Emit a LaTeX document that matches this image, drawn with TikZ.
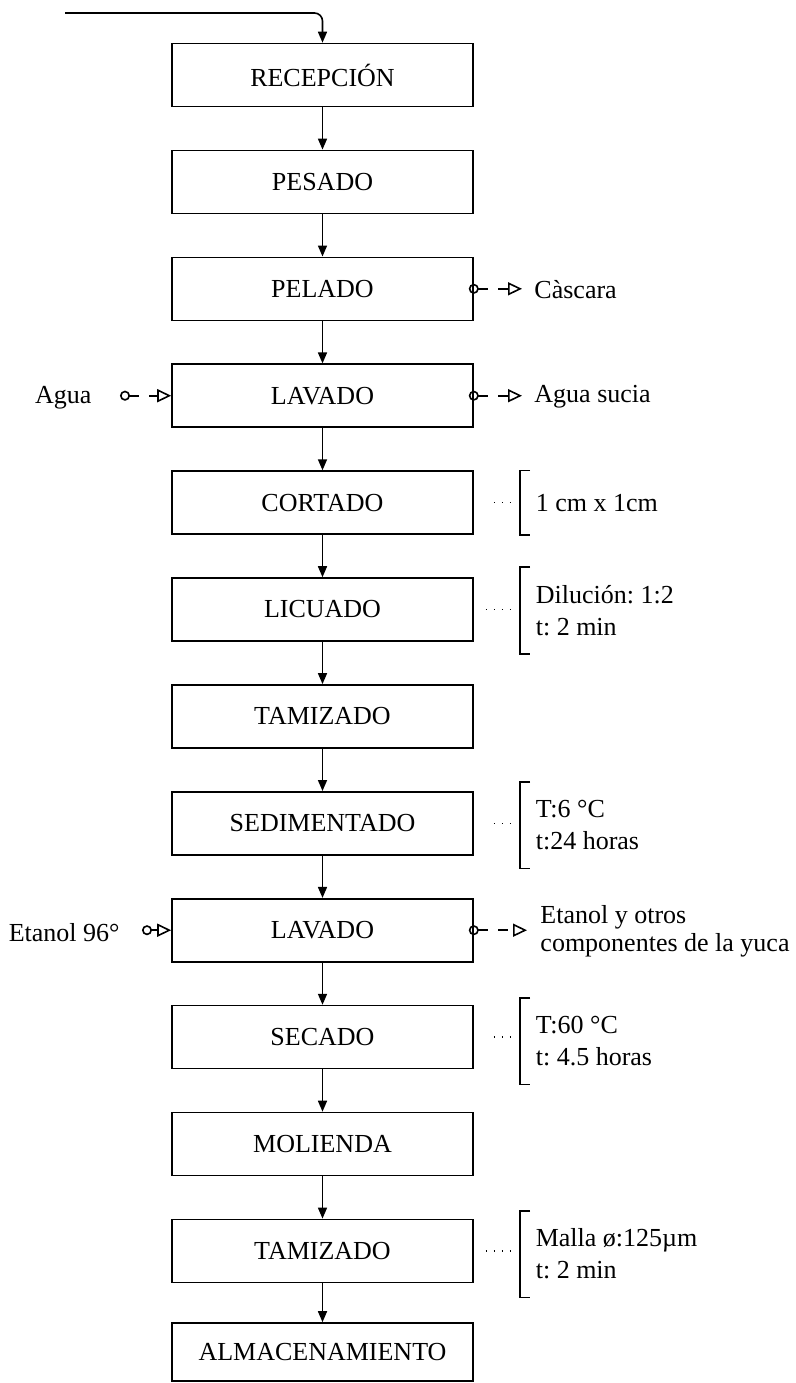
\documentclass[tikz,border=0pt]{standalone}
\usepackage{fontspec}
\setmainfont{Liberation Serif}
\frenchspacing
\usetikzlibrary{arrows.meta}

\begin{document}
\begin{tikzpicture}[x=0.5pt, y=-0.5pt, line width=0.8pt,
        font=\fontsize{13}{16}\selectfont,
        proc/.style={draw, minimum width=150.5pt, minimum height=31.5pt, inner sep=0pt},
        flow/.style={-{Triangle[length=5.5pt,width=4.5pt]}},
        side/.style={{Circle[open,length=5pt,width=5pt]}-{Triangle[open,length=7pt,width=6.5pt]}, dash pattern=on 5pt off 5pt},
        note/.style={anchor=west, align=left, inner xsep=7.5pt, inner ysep=0pt},
        dots/.style={line width=0.7pt, dash pattern=on 0.6pt off 3.4pt, shorten <=10pt, shorten >=2pt}]
        \useasboundingbox (0,0) rectangle (796,1383);

        % Process steps
        \node[proc] (recepcion) at (322.5,75) {RECEPCIÓN};
        \node[proc] (pesado) at (322.5,181.9) {PESADO};
        \node[proc] (pelado) at (322.5,288.8) {PELADO};
        \node[proc] (lavado) at (322.5,395.7) {LAVADO};
        \node[proc] (cortado) at (322.5,502.6) {CORTADO};
        \node[proc] (licuado) at (322.5,609.5) {LICUADO};
        \node[proc] (tamizado) at (322.5,716.4) {TAMIZADO};
        \node[proc] (sediment) at (322.5,823.3) {SEDIMENTADO};
        \node[proc] (lavadob) at (322.5,930.2) {LAVADO};
        \node[proc] (secado) at (322.5,1037.1) {SECADO};
        \node[proc] (molienda) at (322.5,1144) {MOLIENDA};
        \node[proc] (tamizadob) at (322.5,1250.9) {TAMIZADO};
        \node[proc, minimum height=29pt] (almacen) at (322.5,1352) {ALMACENAMIENTO};

        % Main flow
        \coordinate (entrada) at (65,13);
        \draw[flow, rounded corners=4pt] (entrada) -| (recepcion.north);
        \draw[flow] (recepcion) -- (pesado);
        \draw[flow] (pesado) -- (pelado);
        \draw[flow] (pelado) -- (lavado);
        \draw[flow] (lavado) -- (cortado);
        \draw[flow] (cortado) -- (licuado);
        \draw[flow] (licuado) -- (tamizado);
        \draw[flow] (tamizado) -- (sediment);
        \draw[flow] (sediment) -- (lavadob);
        \draw[flow] (lavadob) -- (secado);
        \draw[flow] (secado) -- (molienda);
        \draw[flow] (molienda) -- (tamizadob);
        \draw[flow] (tamizadob) -- (almacen);

        % Inputs and outputs
        \node[anchor=west] (cascara) at (527,289.8) {Càscara};
        \draw[side, shorten <=-2.5pt, shorten >=2.5pt] (pelado.east) -- (cascara.west |- pelado.east);
        \node[anchor=east] (agua) at (99,397.7) {Agua};
        \draw[side, shorten <=10.5pt] (agua.east |- lavado.west) -- (lavado.west);
        \node[anchor=west] (aguasucia) at (527,396.7) {Agua sucia};
        \draw[side, shorten <=-2.5pt, shorten >=2.5pt] (lavado.east) -- (aguasucia.west |- lavado.east);
        \node[anchor=east] (etanol) at (127,932.2) {Etanol 96°};
        \draw[side, shorten <=7.5pt] (etanol.east |- lavadob.west) -- (lavadob.west);
        \node[anchor=west, align=left, font=\fontsize{13}{14}\selectfont] (residuo) at (533,931.2) {Etanol y otros\\componentes de la yuca};
        \draw[side, shorten <=-2.5pt, shorten >=3pt] (lavadob.east) -- (residuo.west |- lavadob.east);

        % Conditions
        \node[note, minimum height=31.5pt] (n1) at (520,502.6) {1 cm x 1cm};
        \draw ([xshift=5pt]n1.north west) -- (n1.north west) -- (n1.south west) -- ([xshift=5pt]n1.south west);
        \draw[dots] (cortado.east) -- (cortado.east -| n1.west);

        \node[note, minimum height=42.5pt] (n2) at (520,610.5) {Dilución: 1:2\\t: 2 min};
        \draw ([xshift=5pt]n2.north west) -- (n2.north west) -- (n2.south west) -- ([xshift=5pt]n2.south west);
        \draw[dots, shorten <=6pt] (licuado.east) -- (licuado.east -| n2.west);

        \node[note, minimum height=42.5pt] (n3) at (520,825) {T:6 °C\\t:24 horas};
        \draw ([xshift=5pt]n3.north west) -- (n3.north west) -- (n3.south west) -- ([xshift=5pt]n3.south west);
        \draw[dots] (sediment.east) -- (sediment.east -| n3.west);

        \node[note, minimum height=42.5pt] (n4) at (520,1041) {T:60 °C\\t: 4.5 horas};
        \draw ([xshift=5pt]n4.north west) -- (n4.north west) -- (n4.south west) -- ([xshift=5pt]n4.south west);
        \draw[dots] (secado.east) -- (secado.east -| n4.west);

        \node[note, minimum height=42.5pt] (n5) at (520,1254) {Malla ø:125µm\\t: 2 min};
        \draw ([xshift=5pt]n5.north west) -- (n5.north west) -- (n5.south west) -- ([xshift=5pt]n5.south west);
        \draw[dots, shorten <=6pt] (tamizadob.east) -- (tamizadob.east -| n5.west);
    \end{tikzpicture}
\end{document}
